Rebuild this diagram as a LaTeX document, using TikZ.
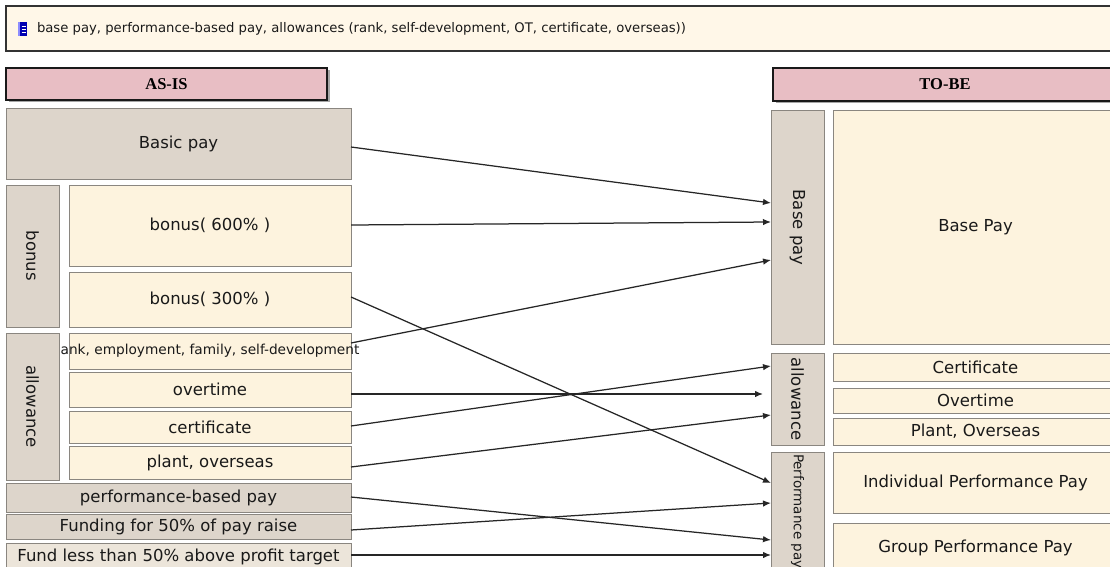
\documentclass[tikz,border=0pt]{standalone}
\usepackage{fontspec}
\setmainfont{DejaVu Sans}
\newfontfamily\headfont{Liberation Serif}
\usetikzlibrary{arrows.meta,calc}

\definecolor{boxgray}{RGB}{221,213,203}
\definecolor{boxpale}{RGB}{236,229,218}
\definecolor{boxcream}{RGB}{253,243,222}
\definecolor{bannerfill}{RGB}{255,247,232}
\definecolor{headpink}{RGB}{232,190,196}
\definecolor{edgegray}{RGB}{138,134,128}
\definecolor{inkdark}{RGB}{25,25,25}

\begin{document}
\begin{tikzpicture}[x=1pt,y=-1pt,
  every node/.style={inner sep=0pt, outer sep=0pt},
  cell/.style={draw=edgegray, line width=1pt, anchor=north west,
    font=\fontsize{16.5}{18}\selectfont, text=inkdark},
  graycell/.style={cell, fill=boxgray},
  palecell/.style={cell, fill=boxpale},
  creamcell/.style={cell, fill=boxcream},
  header/.style={draw=black!90, line width=1.3pt, fill=headpink, anchor=north west,
    font=\headfont\bfseries\fontsize{16.5}{18}\selectfont, text=black},
  link/.style={-{Latex[length=8pt,width=6.5pt]}, line width=1.25pt, draw=black!85},
]
\useasboundingbox (0,0) rectangle (1110,567);
\fill[white] (0,0) rectangle (1110,567);

% summary banner
\node[draw=black!80, line width=1.3pt, fill=bannerfill, anchor=north west,
  minimum width=1115, minimum height=45] (banner) at (6,6) {};
\fill[blue!70!black] (18,22) rectangle (27,36);
\fill[blue!45] (18,22) rectangle (20,36);
\draw[white, line width=0.8pt] (21.5,26) -- (25.5,26) (21.5,29) -- (25.5,29) (21.5,32) -- (25.5,32);
\node[anchor=west, font=\fontsize{13.2}{16}\selectfont, text=inkdark] (bannertext) at (37,29)
  {base pay, performance-based pay, allowances (rank, self-development, OT, certificate, overseas))};

% column headers
\fill[black!35] (8.5,70.5) rectangle (329.5,102.5);
\node[header, minimum width=321, minimum height=32] (asis) at (6,68) {AS-IS};
\fill[black!35] (775.5,70.5) rectangle (1120,103.5);
\node[header, minimum width=344, minimum height=33] (tobe) at (773,68) {TO-BE};

% current pay structure
\node[graycell, minimum width=345, minimum height=70] (basic) at (6,109) {Basic pay};
\node[graycell, minimum width=53, minimum height=142] (bonusside) at (6,185) {\rotatebox{-90}{bonus}};
\node[creamcell, minimum width=282, minimum height=81] (b600) at (69,185) {bonus( 600\% )};
\node[creamcell, minimum width=282, minimum height=55] (b300) at (69,272) {bonus( 300\% )};
\node[graycell, minimum width=53, minimum height=147] (allowside) at (6,333) {\rotatebox{-90}{allowance}};
\node[creamcell, minimum width=282, minimum height=36] (rank) at (69,333)
  {\makebox[0pt]{\fontsize{13.7}{15}\selectfont ank, employment, family, self-development}};
\node[creamcell, minimum width=282, minimum height=35] (overtime) at (69,372) {overtime};
\node[creamcell, minimum width=282, minimum height=32] (certificate) at (69,411) {certificate};
\node[creamcell, minimum width=282, minimum height=33] (plant) at (69,446) {plant, overseas};
\node[graycell, minimum width=345, minimum height=29] (perf) at (6,483) {performance-based pay};
\node[graycell, minimum width=345, minimum height=25] (funding) at (6,514) {Funding for 50\% of pay raise};
\node[palecell, minimum width=345, minimum height=27] (fundless) at (6,543) {Fund less than 50\% above profit target};

% target pay structure
\node[graycell, minimum width=53, minimum height=233] (bpside) at (771,111) {\rotatebox{-90}{Base pay}};
\node[creamcell, minimum width=285, minimum height=233] (bpbig) at (833,111) {Base Pay};
\node[graycell, minimum width=53, minimum height=92] (alside) at (771,353) {\rotatebox{-90}{allowance}};
\node[creamcell, minimum width=285, minimum height=28] (cert2) at (833,353) {Certificate};
\node[creamcell, minimum width=285, minimum height=25] (ot2) at (833,388) {Overtime};
\node[creamcell, minimum width=285, minimum height=27] (plant2) at (833,418) {Plant, Overseas};
\node[graycell, minimum width=53, minimum height=150] (pfside) at (771,452) {};
\node[rotate=-90, anchor=west, font=\fontsize{13.5}{15}\selectfont, text=inkdark] (pftext)
  at (797.5,454) {Performance pay};
\node[creamcell, minimum width=285, minimum height=61] (indiv) at (833,452) {Individual Performance Pay};
\node[creamcell, minimum width=285, minimum height=50] (group) at (833,523) {Group Performance Pay};

% mapping from current to target items
\draw[link] (basic.east |- 0,147) -- (bpside.west |- 0,203);
\draw[link] (b600.east |- 0,225) -- (bpside.west |- 0,222);
\draw[link] (b300.east |- 0,297) -- (pfside.west |- 0,483);
\draw[link] (rank.east |- 0,343) -- (bpside.west |- 0,260);
\draw[link] (overtime.east |- 0,394) -- ([xshift=-8pt]alside.west |- 0,394);
\draw[link] (certificate.east |- 0,426) -- (alside.west |- 0,366);
\draw[link] (plant.east |- 0,467) -- (alside.west |- 0,415);
\draw[link] (perf.east |- 0,497) -- (pfside.west |- 0,540);
\draw[link] (funding.east |- 0,530) -- (pfside.west |- 0,503);
\draw[link] (fundless.east |- 0,555) -- (pfside.west |- 0,555);
\end{tikzpicture}
\end{document}
